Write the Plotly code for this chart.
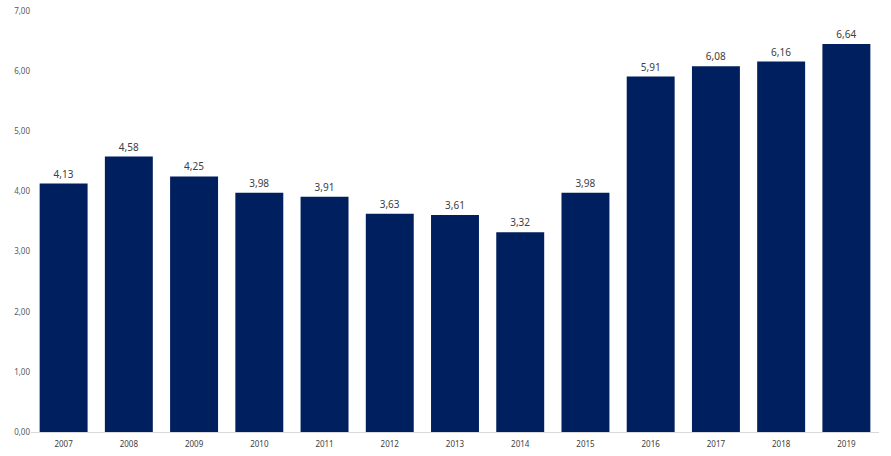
import plotly.graph_objects as go

years = ["2007", "2008", "2009", "2010", "2011", "2012", "2013",
         "2014", "2015", "2016", "2017", "2018", "2019"]
# bar heights as drawn in the reference
values = [4.13, 4.58, 4.25, 3.98, 3.91, 3.63, 3.61, 3.32, 3.98, 5.91, 6.08, 6.16, 6.45]
# data labels as printed in the reference
labels = ["4,13", "4,58", "4,25", "3,98", "3,91", "3,63", "3,61",
          "3,32", "3,98", "5,91", "6,08", "6,16", "6,64"]
y_ticks = [0, 1, 2, 3, 4, 5, 6, 7]
y_tick_text = ["0,00", "1,00", "2,00", "3,00", "4,00", "5,00", "6,00", "7,00"]

fig = go.Figure(go.Bar(
    x=years, y=values, text=labels, textposition="outside",
    textfont=dict(size=10, color="#404040", family="Noto Sans"),
    marker=dict(color="#001F5E", line=dict(width=0)),
    cliponaxis=False,
))
fig.update_layout(
    width=891, height=456,
    margin=dict(l=31, r=12, t=11, b=24, autoexpand=False),
    plot_bgcolor="white", paper_bgcolor="white",
    bargap=0.265,
    showlegend=False,
    font=dict(family="Noto Sans", size=8, color="#595959"),
)
fig.update_xaxes(type="category", showgrid=False, showline=True, linecolor="#D9D9D9",
                 linewidth=1, ticks="", tickfont=dict(size=8, color="#404040"),
                 ticklabelstandoff=4, automargin=False)
fig.update_yaxes(range=[0, 7], tickvals=y_ticks, ticktext=y_tick_text, showgrid=False,
                 zeroline=False, showline=False, ticks="",
                 tickfont=dict(size=8, color="#595959"), automargin=False)
fig.write_html("out.html", config={"displayModeBar": False},
               post_script="document.body.style.margin='0';document.body.style.overflow='hidden';")
